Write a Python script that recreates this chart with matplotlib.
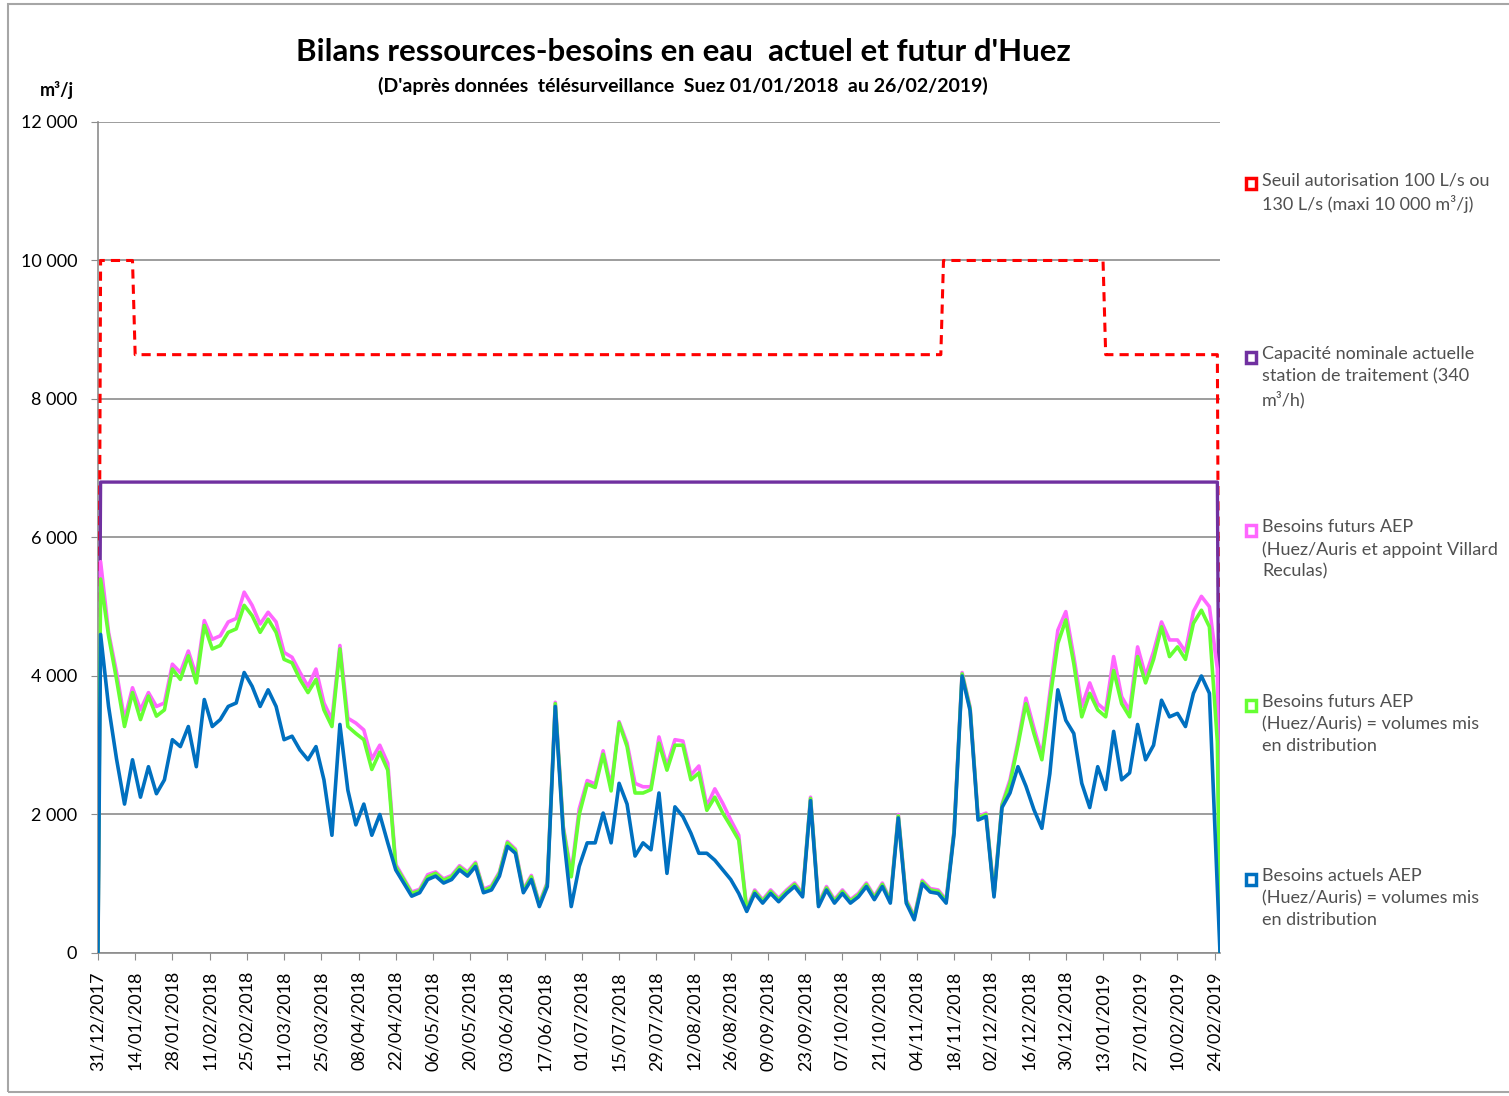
import numpy as np
import pandas as pd
import matplotlib
matplotlib.use("Agg")
import matplotlib.pyplot as plt
import matplotlib.dates as mdates
from matplotlib.patches import Rectangle
from matplotlib.ticker import FuncFormatter, MultipleLocator

plt.rcParams['font.family'] = ['Lato', 'DejaVu Sans']

# daily volumes sampled every 3 days, 01/01/2018 -> 25/02/2019 (m3/j)
besoins_actuels = [
    4600, 3560, 2800, 2150, 2790, 2250, 2690, 2300, 2500, 3080,
    2980, 3270, 2690, 3660, 3270, 3370, 3560, 3610, 4050, 3850,
    3560, 3800, 3560, 3080, 3130, 2930, 2790, 2980, 2500, 1700,
    3300, 2350, 1850, 2150, 1700, 2000, 1590, 1200, 1010, 820,
    870, 1060, 1110, 1010, 1060, 1200, 1110, 1250, 870, 910,
    1110, 1540, 1440, 870, 1060, 670, 960, 3560, 1730, 670,
    1250, 1590, 1590, 2020, 1590, 2450, 2150, 1400, 1590, 1490,
    2310, 1150, 2110, 1970, 1730, 1440, 1440, 1340, 1200, 1060,
    860, 600, 860, 720, 860, 740, 860, 960, 810, 2200,
    670, 910, 720, 860, 720, 810, 960, 770, 960, 720,
    1950, 720, 480, 1000, 880, 860, 720, 1730, 4000, 3500,
    1920, 1970, 810, 2100, 2310, 2690, 2410, 2070, 1800, 2590,
    3800, 3360, 3170, 2450, 2100, 2690, 2360, 3200, 2500, 2600,
    3300, 2790, 3000, 3650, 3410, 3460, 3270, 3750, 4000, 3750,
    950,
]
besoins_futurs = [
    5400, 4580, 3950, 3270, 3760, 3370, 3710, 3420, 3510, 4100,
    3950, 4290, 3900, 4730, 4390, 4440, 4630, 4680, 5020, 4870,
    4630, 4820, 4630, 4240, 4190, 3950, 3760, 3950, 3510, 3270,
    4390, 3270, 3170, 3080, 2650, 2900, 2640, 1250, 1060, 860,
    900, 1100, 1150, 1050, 1100, 1240, 1150, 1290, 900, 950,
    1150, 1590, 1480, 900, 1100, 700, 1000, 3600, 1800, 1100,
    2000, 2440, 2390, 2870, 2340, 3320, 2980, 2310, 2310, 2360,
    3030, 2640, 3000, 3000, 2500, 2600, 2060, 2250, 2020, 1830,
    1630, 620, 890, 750, 890, 770, 890, 990, 840, 2230,
    700, 940, 750, 890, 750, 840, 990, 800, 990, 750,
    1980, 750, 510, 1030, 910, 890, 750, 1760, 4030, 3530,
    1950, 2000, 840, 2130, 2450, 3000, 3600, 3170, 2790, 3650,
    4470, 4810, 4180, 3410, 3750, 3510, 3410, 4080, 3600, 3410,
    4280, 3900, 4240, 4710, 4280, 4420, 4240, 4760, 4950, 4710,
    3050,
]
besoins_futurs_villard = [
    5650, 4630, 4050, 3370, 3830, 3510, 3760, 3560, 3610, 4170,
    4050, 4360, 4000, 4800, 4530, 4580, 4780, 4830, 5210, 5020,
    4750, 4920, 4780, 4340, 4270, 4050, 3850, 4100, 3610, 3370,
    4440, 3390, 3320, 3220, 2800, 3000, 2740, 1280, 1080, 880,
    920, 1130, 1170, 1070, 1120, 1260, 1170, 1310, 920, 970,
    1170, 1610, 1500, 920, 1120, 720, 1020, 3620, 1830, 1150,
    2080, 2490, 2440, 2920, 2400, 3340, 3030, 2450, 2400, 2400,
    3120, 2700, 3080, 3060, 2570, 2700, 2120, 2370, 2160, 1920,
    1700, 640, 910, 770, 910, 790, 910, 1010, 860, 2250,
    720, 960, 770, 910, 770, 860, 1010, 820, 1010, 770,
    2000, 770, 530, 1050, 930, 910, 770, 1780, 4050, 3550,
    1970, 2020, 860, 2150, 2500, 3050, 3680, 3250, 2850, 3750,
    4660, 4930, 4280, 3560, 3900, 3600, 3500, 4280, 3700, 3500,
    4420, 4000, 4350, 4780, 4520, 4520, 4350, 4930, 5150, 5000,
    4100,
]
capacite_station = 6800  # 340 m3/h

seuil_dates = ['2017-12-31', '2018-01-01', '2018-01-13', '2018-01-14',
               '2018-11-13', '2018-11-14', '2019-01-13', '2019-01-14',
               '2019-02-25', '2019-02-26']
seuil_vals = [0, 10000, 10000, 8640, 8640, 10000, 10000, 8640, 8640, 0]

dates = pd.date_range('2018-01-01', periods=len(besoins_actuels), freq='3D')
d0, d1 = pd.Timestamp('2017-12-31'), pd.Timestamp('2019-02-26')
x = [d0] + list(dates) + [d1]

def closed(vals):
    # series start and end at zero on the chart
    return [0] + list(vals) + [0]

fig = plt.figure(figsize=(15.09, 10.96), dpi=100)
ax = fig.add_axes([0.0649, 0.1305, 0.7436, 0.7582])

fig.patches.append(Rectangle((8 / 1509, 4 / 1096), 1.2, 1088 / 1096, transform=fig.transFigure,
                             fill=False, edgecolor='#a6a6a6', lw=1.5))

ax.plot(pd.to_datetime(seuil_dates), seuil_vals, color='#ff0000', lw=2.2, ls=(0, (3, 2)), zorder=3)
ax.plot(x, closed([capacite_station] * len(dates)), color='#7030a0', lw=2.4, zorder=3)
ax.plot(x, closed(besoins_futurs_villard), color='#ff66ff', lw=2.6, zorder=4)
ax.plot(x, closed(besoins_futurs), color='#66ff33', lw=2.6, zorder=5)
ax.plot(x, closed(besoins_actuels), color='#0070c0', lw=2.6, zorder=6)

ax.set_xlim(d0, d1)
ax.set_ylim(0, 12000)
ax.yaxis.set_major_locator(MultipleLocator(2000))
ax.yaxis.set_major_formatter(FuncFormatter(lambda v, p: f"{int(v):,}".replace(",", " ")))
ax.grid(axis='y', color='#8c8c8c', lw=1.2)
ax.set_axisbelow(True)

ticks = pd.date_range(d0, '2019-02-24', freq='14D')
ax.set_xticks(ticks)
ax.xaxis.set_major_formatter(mdates.DateFormatter('%d/%m/%Y'))
plt.setp(ax.get_xticklabels(), rotation=90, fontsize=13)
ax.tick_params(axis='y', labelsize=13, length=5, color='#8c8c8c', pad=10)
ax.tick_params(axis='x', length=5, color='#8c8c8c', pad=8)
for s in ['top', 'right']:
    ax.spines[s].set_visible(False)
for s in ['left', 'bottom']:
    ax.spines[s].set_color('#8c8c8c')
    ax.spines[s].set_linewidth(1.2)

fig.text(0.4526, 0.953, "Bilans ressources-besoins en eau  actuel et futur d'Huez",
         ha='center', va='center', fontsize=22.5, fontweight='bold')
fig.text(0.4526, 0.922, "(D'après données  télésurveillance  Suez 01/01/2018  au 26/02/2019)",
         ha='center', va='center', fontsize=14, fontweight='bold')
fig.text(57 / 1509, 1 - 90 / 1096, "m³/j", ha='center', va='center', fontsize=13, fontweight='bold')

legend_items = [
    ('#ff0000', 183, "Seuil autorisation 100 L/s ou\n130 L/s (maxi 10 000 m³/j)"),
    ('#7030a0', 357, "Capacité nominale actuelle\nstation de traitement (340\nm³/h)"),
    ('#ff66ff', 530, "Besoins futurs AEP\n(Huez/Auris et appoint Villard\nReculas)"),
    ('#66ff33', 705, "Besoins futurs AEP\n(Huez/Auris) = volumes mis\nen distribution"),
    ('#0070c0', 879, "Besoins actuels AEP\n(Huez/Auris) = volumes mis\nen distribution"),
]
for col, ypx, txt in legend_items:
    fig.patches.append(Rectangle((1246 / 1509, 1 - (ypx + 6) / 1096), 10 / 1509, 11 / 1096,
                                 transform=fig.transFigure, facecolor='white', edgecolor=col, lw=2.5))
    fig.text(1262 / 1509, 1 - (ypx - 11) / 1096, txt, ha='left', va='top', fontsize=13,
             color='#505050', linespacing=1.45)

fig.savefig('out.png', dpi=100)
